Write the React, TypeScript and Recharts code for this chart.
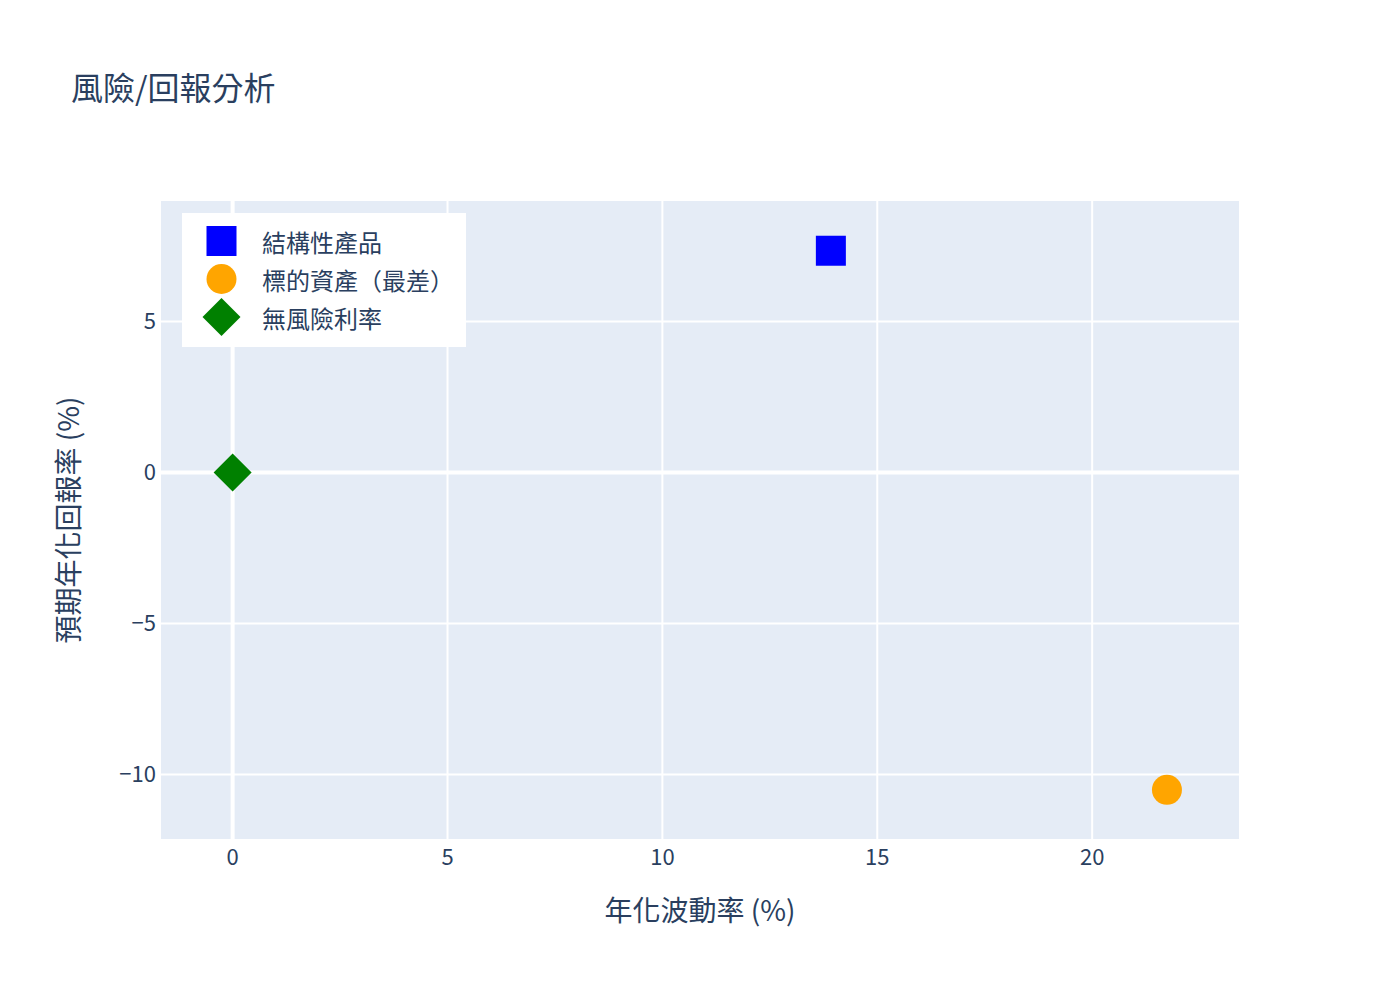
import {
  CartesianGrid,
  Label,
  ReferenceLine,
  Scatter,
  ScatterChart,
  XAxis,
  YAxis,
} from 'recharts';

const seriesNames = ['結構性產品', '標的資產（最差）', '無風險利率'];
const volatility = [13.92, 21.74, 0];
const expectedReturn = [7.34, -10.51, 0];
const colors = ['#0000ff', '#ffa500', '#008000'];
const markers = ['square', 'circle', 'diamond'];

const xTicks = [0, 5, 10, 15, 20];
const yTicks = [-10, -5, 0, 5];

const FONT = '"Noto Sans CJK TC", "Noto Sans", sans-serif';
const TEXT = '#2a3f5f';

const drawMarker = (kind: string, cx: number, cy: number, color: string) => {
  if (kind === 'square') {
    return <rect x={cx - 15} y={cy - 15} width={30} height={30} fill={color} />;
  }
  if (kind === 'circle') {
    return <circle cx={cx} cy={cy} r={15} fill={color} />;
  }
  return (
    <polygon
      points={`${cx},${cy - 19} ${cx + 19},${cy} ${cx},${cy + 19} ${cx - 19},${cy}`}
      fill={color}
    />
  );
};

const fmt = (v: number) => String(v).replace('-', '\u2212');

// legend drawn as a plain box over the plot, like plotly's legend at x=0.01, y=0.99
const LegendBox = () => (
  <div
    style={{
      position: 'absolute',
      left: 182,
      top: 213,
      background: '#fff',
      width: 284,
      height: 134,
      boxSizing: 'border-box',
      paddingTop: 9,
    }}>
    {seriesNames.map((name, i) => (
      <div
        key={name}
        style={{ display: 'flex', alignItems: 'center', height: 38, fontFamily: FONT, fontSize: 24, color: TEXT }}>
        <svg width={80} height={38} style={{ display: 'block' }}>
          {drawMarker(markers[i], 39.5, 19, colors[i])}
        </svg>
        <span style={{ whiteSpace: 'nowrap' }}>{name}</span>
      </div>
    ))}
  </div>
);

const App = () => {
  return (
    <div style={{ position: 'absolute', left: 0, top: 0, width: 1400, height: 1000, background: '#fff' }}>
      <div
        style={{
          position: 'absolute',
          left: 71,
          top: 63,
          fontFamily: FONT,
          fontSize: 32,
          color: TEXT,
          lineHeight: '46px',
          whiteSpace: 'nowrap',
        }}>
        風險/回報分析
      </div>
      <ScatterChart
        width={1400}
        height={1000}
        margin={{ top: 200, right: 160, bottom: 70, left: 50 }}
        style={{ fontFamily: FONT }}>
        <CartesianGrid fill='#E5ECF6' stroke='#ffffff' strokeWidth={2} strokeOpacity={1} />
        <XAxis
          type='number'
          dataKey='x'
          domain={[-1.69, 23.44]}
          allowDataOverflow
          ticks={xTicks}
          tickFormatter={fmt}
          axisLine={false}
          tickLine={false}
          tickSize={0}
          tickMargin={9}
          height={90}
          tick={{ fill: TEXT, fontSize: 22 }}>
          <Label
            value='年化波動率 (%)'
            position='insideBottom'
            offset={9}
            style={{ fill: TEXT, fontSize: 28, fontFamily: FONT }}
          />
        </XAxis>
        <YAxis
          type='number'
          dataKey='y'
          domain={[-12.17, 9.02]}
          allowDataOverflow
          ticks={yTicks}
          tickFormatter={fmt}
          axisLine={false}
          tickLine={false}
          tickSize={0}
          tickMargin={4}
          width={110}
          tick={{ fill: TEXT, fontSize: 22 }}>
          <Label
            value='預期年化回報率 (%)'
            angle={-90}
            position='insideLeft'
            offset={19}
            style={{ fill: TEXT, fontSize: 28, fontFamily: FONT, textAnchor: 'middle' }}
          />
        </YAxis>
        <ReferenceLine x={0} stroke='#ffffff' strokeWidth={4} />
        <ReferenceLine y={0} stroke='#ffffff' strokeWidth={4} />
        {seriesNames.map((name, i) => (
          <Scatter
            key={name}
            name={name}
            data={[{ x: volatility[i], y: expectedReturn[i] }]}
            fill={colors[i]}
            isAnimationActive={false}
            shape={(p: any) => drawMarker(markers[i], p.cx, p.cy, colors[i])}
          />
        ))}
      </ScatterChart>
      <LegendBox />
    </div>
  );
};

export default App;
